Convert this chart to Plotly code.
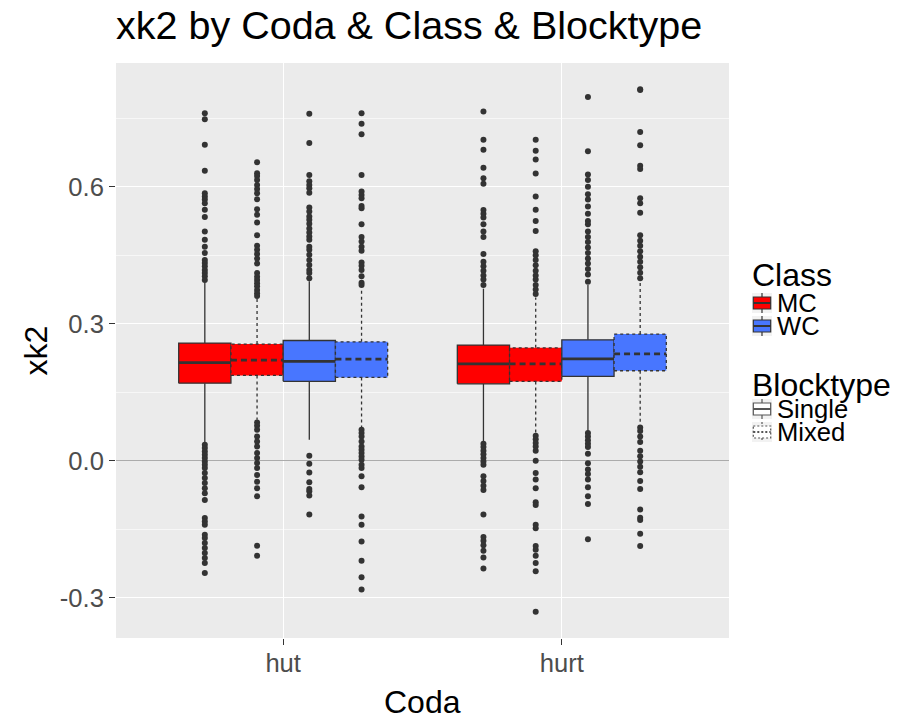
import plotly.graph_objects as go

# ---- data -------------------------------------------------------------
codas = ["hut", "hurt"]
classes = ["MC", "WC"]
blocktypes = ["Single", "Mixed"]
# boxes within each coda, in dodge order
groups = [("MC", "Single"), ("MC", "Mixed"), ("WC", "Single"), ("WC", "Mixed")]

# five-number summaries (whisker ends, hinges, median) per coda, dodge order
lower_hut = [0.0387, 0.090, 0.046, 0.0716]
q1_hut = [0.170, 0.187, 0.174, 0.1825]
median_hut = [0.215, 0.2205, 0.2175, 0.2226]
q3_hut = [0.2577, 0.2555, 0.2634, 0.2606]
upper_hut = [0.3905, 0.356, 0.393, 0.378]

lower_hurt = [0.041, 0.061, 0.065, 0.080]
q1_hurt = [0.1686, 0.1737, 0.1847, 0.1971]
median_hurt = [0.2124, 0.2124, 0.2233, 0.2343]
q3_hurt = [0.2533, 0.2474, 0.2649, 0.2774]
upper_hurt = [0.377, 0.3575, 0.385, 0.395]

# outlying observations
out_hut_mc_single = [0.761, 0.748, 0.692, 0.635, 0.586, 0.579, 0.572, 0.564, 0.550, 0.534,
                     0.502, 0.484, 0.469, 0.455, 0.440, 0.433, 0.426, 0.418, 0.411, 0.404,
                     0.396, 0.035, 0.0277, 0.0204, 0.0131, 0.0058, -0.0015, -0.0088, -0.016,
                     -0.027, -0.038, -0.049, -0.060, -0.071, -0.086, -0.1255, -0.133, -0.140,
                     -0.162, -0.169, -0.180, -0.191, -0.202, -0.213, -0.224, -0.246]
out_hut_mc_mixed = [0.654, 0.630, 0.624, 0.615, 0.604, 0.595, 0.586, 0.573, 0.551, 0.539,
                    0.522, 0.494, 0.471, 0.462, 0.453, 0.443, 0.432, 0.411, 0.403, 0.396,
                    0.389, 0.382, 0.374, 0.367, 0.361, 0.084, 0.0766, 0.0679, 0.0533, 0.0423,
                    0.0314, 0.0168, 0.0058, -0.0051, -0.016, -0.031, -0.046, -0.060, -0.078,
                    -0.186, -0.208]
out_hut_wc_single = [0.760, 0.696, 0.626, 0.612, 0.604, 0.597, 0.587, 0.555, 0.546, 0.535,
                     0.528, 0.519, 0.509, 0.500, 0.491, 0.484, 0.469, 0.462, 0.451, 0.440,
                     0.429, 0.418, 0.411, 0.400, 0.011, -0.0066, -0.0255, -0.047, -0.062,
                     -0.067, -0.076, -0.118]
out_hut_wc_mixed = [0.761, 0.738, 0.715, 0.626, 0.590, 0.582, 0.575, 0.558, 0.553, 0.518,
                    0.490, 0.480, 0.469, 0.460, 0.434, 0.427, 0.418, 0.404, 0.390, 0.385,
                    0.0679, 0.0606, 0.0533, 0.0423, 0.0314, 0.0241, 0.0168, 0.0095, 0.0022,
                    -0.0088, -0.016, -0.034, -0.058, -0.122, -0.140, -0.177, -0.219, -0.255,
                    -0.282]
out_hurt_mc_single = [0.765, 0.703, 0.681, 0.642, 0.619, 0.607, 0.549, 0.541, 0.533, 0.518,
                      0.502, 0.490, 0.453, 0.436, 0.426, 0.416, 0.406, 0.397, 0.385, 0.0375,
                      0.030, 0.022, 0.014, 0.006, -0.0016, -0.009, -0.034, -0.0445, -0.055,
                      -0.064, -0.118, -0.167, -0.175, -0.185, -0.197, -0.212, -0.236]
out_hurt_mc_mixed = [0.703, 0.679, 0.660, 0.629, 0.579, 0.550, 0.525, 0.503, 0.459, 0.450,
                     0.440, 0.428, 0.416, 0.406, 0.397, 0.385, 0.375, 0.365, 0.055, 0.047,
                     0.039, 0.031, 0.022, 0.0, -0.027, -0.041, -0.060, -0.091, -0.097, -0.140,
                     -0.148, -0.187, -0.195, -0.208, -0.224, -0.242, -0.331]
out_hurt_wc_single = [0.797, 0.678, 0.627, 0.615, 0.600, 0.584, 0.572, 0.557, 0.541, 0.525,
                      0.518, 0.502, 0.490, 0.479, 0.467, 0.455, 0.443, 0.432, 0.420, 0.408,
                      0.392, 0.061, 0.053, 0.045, 0.0375, 0.030, 0.0156, -0.0055, -0.019,
                      -0.029, -0.041, -0.058, -0.078, -0.095, -0.172]
out_hurt_wc_mixed = [0.814, 0.812, 0.720, 0.691, 0.646, 0.639, 0.575, 0.564, 0.543, 0.494,
                     0.482, 0.471, 0.459, 0.447, 0.436, 0.424, 0.412, 0.400, 0.0726, 0.065,
                     0.053, 0.041, 0.022, 0.010, -0.0016, -0.013, -0.025, -0.0445, -0.062,
                     -0.107, -0.125, -0.130, -0.160, -0.187]

y_ticks = [-0.3, 0.0, 0.3, 0.6]
y_tick_labels = ["-0.3", "0.0", "0.3", "0.6"]

# ---- styling ------------------------------------------------------------
FONT = "Liberation Sans, Arial, Helvetica, sans-serif"
class_fill = {"MC": "#FF0000", "WC": "#4876FF"}
dash_of = {"Single": "solid", "Mixed": "3px,3px"}
median_dash = {"Single": "solid", "Mixed": "6px,4px"}
EDGE = "#333333"
DODGE = 0.75

stats = {
    "hut": (lower_hut, q1_hut, median_hut, q3_hut, upper_hut,
            [out_hut_mc_single, out_hut_mc_mixed, out_hut_wc_single, out_hut_wc_mixed]),
    "hurt": (lower_hurt, q1_hurt, median_hurt, q3_hurt, upper_hurt,
             [out_hurt_mc_single, out_hurt_mc_mixed, out_hurt_wc_single, out_hurt_wc_mixed]),
}

fig = go.Figure()
n = len(groups)
bw = DODGE / n
all_vals = []
for ci, coda in enumerate(codas):
    lo, q1, med, q3, hi, outs = stats[coda]
    center = ci + 1
    for gi, (cls, blk) in enumerate(groups):
        xc = center + (gi - (n - 1) / 2) * bw
        x0, x1 = xc - bw / 2, xc + bw / 2
        # whiskers
        fig.add_trace(go.Scatter(
            x=[xc, xc, None, xc, xc], y=[q3[gi], hi[gi], None, q1[gi], lo[gi]],
            mode="lines", line=dict(color=EDGE, width=1.3, dash=dash_of[blk]),
            hoverinfo="skip", showlegend=False))
        # hinge box
        fig.add_trace(go.Scatter(
            x=[x0, x1, x1, x0, x0], y=[q1[gi], q1[gi], q3[gi], q3[gi], q1[gi]],
            mode="lines", fill="toself", fillcolor=class_fill[cls],
            line=dict(color=EDGE, width=1.3, dash=dash_of[blk]),
            name=f"{coda} {cls} {blk}", showlegend=False))
        # median
        fig.add_trace(go.Scatter(
            x=[x0, x1], y=[med[gi], med[gi]], mode="lines",
            line=dict(color=EDGE, width=2.8, dash=median_dash[blk]),
            hoverinfo="skip", showlegend=False))
        # outliers
        fig.add_trace(go.Scatter(
            x=[xc] * len(outs[gi]), y=outs[gi], mode="markers",
            marker=dict(color=EDGE, size=6, line=dict(width=0)),
            showlegend=False))
        all_vals += outs[gi] + [lo[gi], hi[gi]]

ymin, ymax = min(all_vals), max(all_vals)
pad = 0.05 * (ymax - ymin)

# ---- layout ------------------------------------------------------------
L, R, T, B = 116, 729, 63, 638
W, H = 899, 720


def px(x):
    return (x - L) / (R - L)


def py(y):
    return (B - y) / (B - T)


fig.update_layout(
    width=W, height=H,
    margin=dict(l=L, r=W - R, t=T, b=H - B, pad=0),
    paper_bgcolor="white", plot_bgcolor="#EBEBEB",
    font=dict(family=FONT, color="black"),
    showlegend=False,
)
fig.update_xaxes(
    range=[0.4, 2.6], tickvals=[1, 2], ticktext=codas,
    showgrid=True, gridcolor="white", gridwidth=1.4, zeroline=False,
    ticks="outside", ticklen=6, tickwidth=1.2, tickcolor=EDGE,
    tickfont=dict(family=FONT, size=25.6, color="#4D4D4D"),
    ticklabelstandoff=-4,
    showline=False, fixedrange=True,
)
fig.update_yaxes(
    range=[ymin - pad, ymax + pad], tickvals=y_ticks, ticktext=y_tick_labels,
    showgrid=True, gridcolor="white", gridwidth=1.4,
    minor=dict(dtick=0.15, tick0=0, showgrid=True, gridcolor="#F7F7F7", gridwidth=0.8),
    zeroline=True, zerolinecolor="#ABABAB", zerolinewidth=1.2,
    ticks="outside", ticklen=6, tickwidth=1.2, tickcolor=EDGE,
    tickfont=dict(family=FONT, size=25.6, color="#4D4D4D"),
    showline=False, fixedrange=True,
)

annotations = [
    dict(text="xk2 by Coda & Class & Blocktype", x=px(114), y=py(25), xanchor="left",
         yanchor="middle", font=dict(size=39.5, color="black")),
    dict(text="Coda", x=0.5, y=py(702), xanchor="center", yanchor="middle",
         font=dict(size=32, color="black")),
    dict(text="xk2", x=px(35), y=0.5, xanchor="center", yanchor="middle", textangle=-90,
         font=dict(size=32, color="black")),
    dict(text="Class", x=px(750), y=py(275), xanchor="left", yanchor="middle",
         font=dict(size=32, color="black")),
    dict(text="Blocktype", x=px(750), y=py(385), xanchor="left", yanchor="middle",
         font=dict(size=32, color="black")),
]
shapes = []

# legend keys drawn as miniature boxplots
KX = 762


def key(row_y, fill, dash, edge):
    out = [
        dict(type="rect", x0=px(KX - 10), x1=px(KX + 10), y0=py(row_y - 10), y1=py(row_y + 10),
             fillcolor="#F2F2F2", line=dict(width=0)),
        dict(type="line", x0=px(KX), x1=px(KX), y0=py(row_y - 10), y1=py(row_y - 6),
             line=dict(color=edge, width=1.2, dash=dash)),
        dict(type="line", x0=px(KX), x1=px(KX), y0=py(row_y + 6), y1=py(row_y + 10),
             line=dict(color=edge, width=1.2, dash=dash)),
        dict(type="rect", x0=px(KX - 8.7), x1=px(KX + 8.7), y0=py(row_y - 6), y1=py(row_y + 6),
             fillcolor=fill, line=dict(color=edge, width=1.2, dash=dash)),
        dict(type="line", x0=px(KX - 8.7), x1=px(KX + 8.7), y0=py(row_y), y1=py(row_y),
             line=dict(color=edge, width=2, dash=dash)),
    ]
    return out


for cls, row in zip(classes, [303, 326]):
    shapes += key(row, class_fill[cls], "solid", EDGE)
    annotations.append(dict(text=cls, x=px(775), y=py(row), xanchor="left", yanchor="middle",
                            font=dict(size=25.6, color="black")))
for blk, row in zip(blocktypes, [409, 432]):
    shapes += key(row, "white", "2px,2px" if blk == "Mixed" else "solid", "#555555")
    annotations.append(dict(text=blk, x=px(775), y=py(row), xanchor="left", yanchor="middle",
                            font=dict(size=25.6, color="black")))

for a in annotations:
    a.update(xref="paper", yref="paper", showarrow=False)
    a["font"]["family"] = FONT
for s in shapes:
    s.update(xref="paper", yref="paper", layer="above")

fig.update_layout(annotations=annotations, shapes=shapes)
fig.write_html("out.html")
